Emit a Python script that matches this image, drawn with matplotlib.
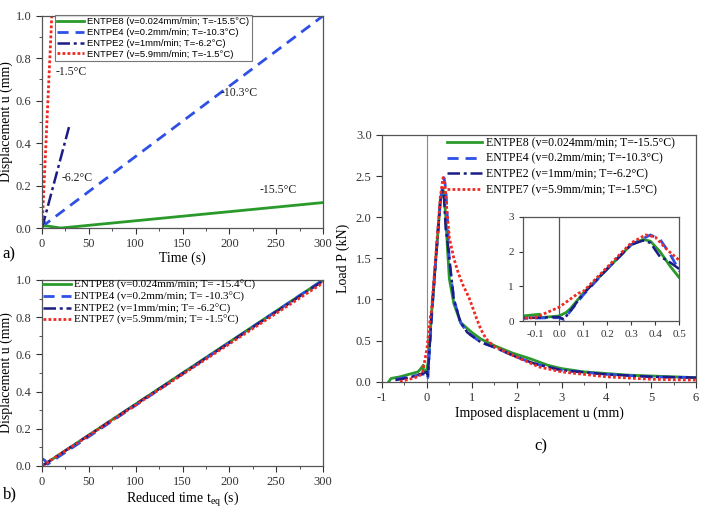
import numpy as np
import matplotlib
matplotlib.use('Agg')
import matplotlib.pyplot as plt
from matplotlib.ticker import MultipleLocator

plt.rcParams['font.family'] = ['Liberation Serif', 'DejaVu Serif']
plt.rcParams['mathtext.fontset'] = 'custom'
plt.rcParams['mathtext.rm'] = 'Liberation Serif'
plt.rcParams['mathtext.it'] = 'Liberation Serif:italic'
plt.rcParams['axes.unicode_minus'] = False
plt.rcParams['axes.edgecolor'] = '#555555'
plt.rcParams['xtick.direction'] = 'out'
plt.rcParams['ytick.direction'] = 'out'

GREEN = '#2a9a2a'
BLUE = '#2f50e6'
NAVY = '#1c1c86'
RED = '#ee2a22'

# panel a: displacement vs time
a_t8 = [0, 5, 20, 300]
a_u8 = [0.01, 0.01, 0.0, 0.12]
a_t4 = [0, 4, 300]
a_u4 = [0.04, 0.02, 1.0]
a_t2 = [0, 3, 29]
a_u2 = [0.0, 0.05, 0.48]
a_t7 = [0, 10.6]
a_u7 = [0.0, 1.02]
a_labels = ['ENTPE8 (v=0.024mm/min; T=-15.5°C)', 'ENTPE4 (v=0.2mm/min; T=-10.3°C)',
            'ENTPE2 (v=1mm/min; T=-6.2°C)', 'ENTPE7 (v=5.9mm/min; T=-1.5°C)']
a_temps = ['-1.5°C', '-6.2°C', '-10.3°C', '-15.5°C']
a_temp_x = [14, 21, 191, 232]
a_temp_y = [0.72, 0.22, 0.62, 0.165]

# panel b: displacement vs reduced time
b_t8 = [0, 300]
b_u8 = [0.0, 1.0]
b_t4 = [0, 3, 6, 300]
b_u4 = [0.04, 0.03, 0.01, 1.0]
b_t2 = [0, 300]
b_u2 = [0.0, 0.995]
b_t7 = [0, 300]
b_u7 = [0.0, 0.985]
b_labels = ['ENTPE8 (v=0.024mm/min; T= -15.4°C)', 'ENTPE4 (v=0.2mm/min; T= -10.3°C)',
            'ENTPE2 (v=1mm/min; T= -6.2°C)', 'ENTPE7 (v=5.9mm/min; T= -1.5°C)']

# panel c: load vs imposed displacement
c_u8 = [-0.85, -0.8, -0.6, -0.4, -0.2, -0.15, -0.08, -0.079, 0.0, 0.03, 0.05, 0.1, 0.2, 0.3,
        0.35, 0.38, 0.42, 0.46, 0.5, 0.6, 0.75, 1.0, 1.2, 1.5, 1.9, 2.3, 2.7, 3.0, 3.5, 4.0,
        4.5, 5.0, 5.5, 6.0]
c_p8 = [0.0, 0.04, 0.06, 0.09, 0.12, 0.15, 0.2, 0.1, 0.15, 0.25, 0.38, 0.8, 1.5, 2.2,
        2.35, 2.3, 2.0, 1.6, 1.25, 0.95, 0.72, 0.6, 0.52, 0.44, 0.35, 0.28, 0.2, 0.16, 0.12,
        0.1, 0.08, 0.07, 0.06, 0.05]
c_u4 = [-0.7, -0.5, -0.2, 0.0, 0.02, 0.1, 0.2, 0.3, 0.38, 0.42, 0.46, 0.5, 0.6, 0.75, 0.9,
        1.2, 1.5, 2.0, 2.4, 3.0, 4.0, 5.0, 6.0]
c_p4 = [0.03, 0.05, 0.08, 0.1, 0.05, 0.75, 1.5, 2.2, 2.48, 2.35, 1.95, 1.45, 1.0, 0.72, 0.6,
        0.48, 0.42, 0.3, 0.22, 0.14, 0.09, 0.06, 0.05]
c_u2 = [-0.7, -0.4, -0.1, 0.0, 0.02, 0.1, 0.2, 0.3, 0.35, 0.38, 0.42, 0.45, 0.5, 0.6, 0.75,
        0.9, 1.2, 1.5, 2.0, 2.4, 3.0, 4.0, 5.0, 6.0]
c_p2 = [0.02, 0.05, 0.1, 0.12, 0.05, 0.78, 1.5, 2.2, 2.32, 2.25, 1.85, 1.75, 1.5, 1.0, 0.72,
        0.6, 0.48, 0.42, 0.3, 0.22, 0.14, 0.09, 0.06, 0.05]
c_u7 = [-0.6, -0.4, -0.2, -0.1, 0.0, 0.08, 0.1, 0.2, 0.3, 0.36, 0.4, 0.45, 0.5, 0.6, 0.7,
        0.8, 0.94, 1.1, 1.2, 1.32, 1.5, 2.0, 2.5, 3.0, 4.0, 5.0, 6.0]
c_p7 = [0.0, 0.03, 0.06, 0.1, 0.4, 0.8, 0.85, 1.55, 2.25, 2.48, 2.42, 2.05, 1.75, 1.5, 1.32,
        1.18, 1.02, 0.78, 0.64, 0.52, 0.43, 0.3, 0.18, 0.12, 0.06, 0.03, 0.02]
c_labels = ['ENTPE8 (v=0.024mm/min; T=-15.5°C)', 'ENTPE4 (v=0.2mm/min; T=-10.3°C)',
            'ENTPE2 (v=1mm/min; T=-6.2°C)', 'ENTPE7 (v=5.9mm/min; T=-1.5°C)']

styles = [dict(color=GREEN, ls='-', lw=2.0),
          dict(color=BLUE, ls=(0, (4, 2.5)), lw=2.0),
          dict(color=NAVY, ls=(0, (5, 1.5, 1.2, 1.5)), lw=1.8),
          dict(color=RED, ls=(0, (1, 0.8)), lw=2.0)]

fig = plt.figure(figsize=(7.01, 5.09), dpi=100)


def style_axes(ax, fs=9):
    ax.tick_params(which='both', top=False, right=False, labelsize=fs, colors='#333333')
    ax.tick_params(which='major', length=4)
    ax.tick_params(which='minor', length=2.5)
    for s in ax.spines.values():
        s.set_linewidth(0.9)


# ---- panel a
axa = fig.add_axes([0.060, 0.552, 0.401, 0.417])
for (t, u), st, lab in zip([(a_t8, a_u8), (a_t4, a_u4), (a_t2, a_u2), (a_t7, a_u7)], styles, a_labels):
    axa.plot(t, u, label=lab, **st)
axa.set_xlim(0, 300)
axa.set_ylim(0, 1.0)
axa.xaxis.set_major_locator(MultipleLocator(50))
axa.xaxis.set_minor_locator(MultipleLocator(25))
axa.yaxis.set_major_locator(MultipleLocator(0.2))
axa.yaxis.set_minor_locator(MultipleLocator(0.1))
axa.yaxis.set_major_formatter(plt.FormatStrFormatter('%.1f'))
style_axes(axa)
axa.set_xlabel('Time (s)', fontsize=10, labelpad=1)
axa.set_ylabel('Displacement u (mm)', fontsize=10, labelpad=2)
for txt, x, y in zip(a_temps, a_temp_x, a_temp_y):
    axa.text(x, y, txt, fontsize=8.5, color='#222222')
leg = axa.legend(loc='upper left', bbox_to_anchor=(0.045, 1.005), prop={'family': 'Liberation Sans', 'size': 6.8},
                 frameon=True, fancybox=False, edgecolor='#555555', handlelength=2.8,
                 labelspacing=0.2, borderpad=0.25, handletextpad=0.4, borderaxespad=0.0)
leg.get_frame().set_linewidth(0.8)

# ---- panel b
axb = fig.add_axes([0.060, 0.0845, 0.401, 0.3655])
for (t, u), st, lab in zip([(b_t8, b_u8), (b_t4, b_u4), (b_t2, b_u2), (b_t7, b_u7)], styles, b_labels):
    axb.plot(t, u, label=lab, **st)
axb.set_xlim(0, 300)
axb.set_ylim(0, 1.0)
axb.xaxis.set_major_locator(MultipleLocator(50))
axb.xaxis.set_minor_locator(MultipleLocator(25))
axb.yaxis.set_major_locator(MultipleLocator(0.2))
axb.yaxis.set_minor_locator(MultipleLocator(0.1))
axb.yaxis.set_major_formatter(plt.FormatStrFormatter('%.1f'))
style_axes(axb)
axb.set_xlabel('Reduced time t$_{\\mathrm{eq}}$ (s)', fontsize=10, labelpad=1)
axb.set_ylabel('Displacement u (mm)', fontsize=10, labelpad=2)
axb.legend(loc='upper left', bbox_to_anchor=(-0.005, 1.01), fontsize=8, frameon=False, handlelength=2.5,
           labelspacing=0.15, borderpad=0.2, handletextpad=0.3, borderaxespad=0.0)

# ---- panel c
axc = fig.add_axes([0.545, 0.250, 0.448, 0.485])
axc.axvline(0, color='#888888', lw=0.8, zorder=0)
for (u, p), st, lab in zip([(c_u8, c_p8), (c_u4, c_p4), (c_u2, c_p2), (c_u7, c_p7)], styles, c_labels):
    axc.plot(u, p, label=lab, **st)
axc.set_xlim(-1, 6)
axc.set_ylim(0, 3.0)
axc.xaxis.set_major_locator(MultipleLocator(1))
axc.xaxis.set_minor_locator(MultipleLocator(0.5))
axc.yaxis.set_major_locator(MultipleLocator(0.5))
axc.yaxis.set_major_formatter(plt.FormatStrFormatter('%.1f'))
style_axes(axc)
axc.set_xlabel('Imposed displacement u (mm)', fontsize=10, labelpad=2)
axc.set_ylabel('Load P (kN)', fontsize=10, labelpad=4)
axc.legend(loc='upper right', bbox_to_anchor=(0.94, 1.0), fontsize=8.5, frameon=False, handlelength=3.0,
           labelspacing=0.3, borderpad=0.2, handletextpad=0.3, borderaxespad=0.0)

# inset
axi = fig.add_axes([0.746, 0.369, 0.223, 0.205])
axi.axvline(0, color='#555555', lw=0.9, zorder=0)
for (u, p), st in zip([(c_u8, c_p8), (c_u4, c_p4), (c_u2, c_p2), (c_u7, c_p7)], styles):
    axi.plot(u, p, **st)
axi.set_xlim(-0.15, 0.5)
axi.set_ylim(0, 3)
axi.xaxis.set_major_locator(MultipleLocator(0.1))
axi.yaxis.set_major_locator(MultipleLocator(1))
axi.xaxis.set_major_formatter(plt.FormatStrFormatter('%.1f'))
style_axes(axi, fs=8)
axi.tick_params(which='major', length=3)

fig.text(0.004, 0.493, 'a)', fontsize=12)
fig.text(0.004, 0.020, 'b)', fontsize=12)
fig.text(0.762, 0.115, 'c)', fontsize=12)

fig.savefig('out.png', dpi=100)
